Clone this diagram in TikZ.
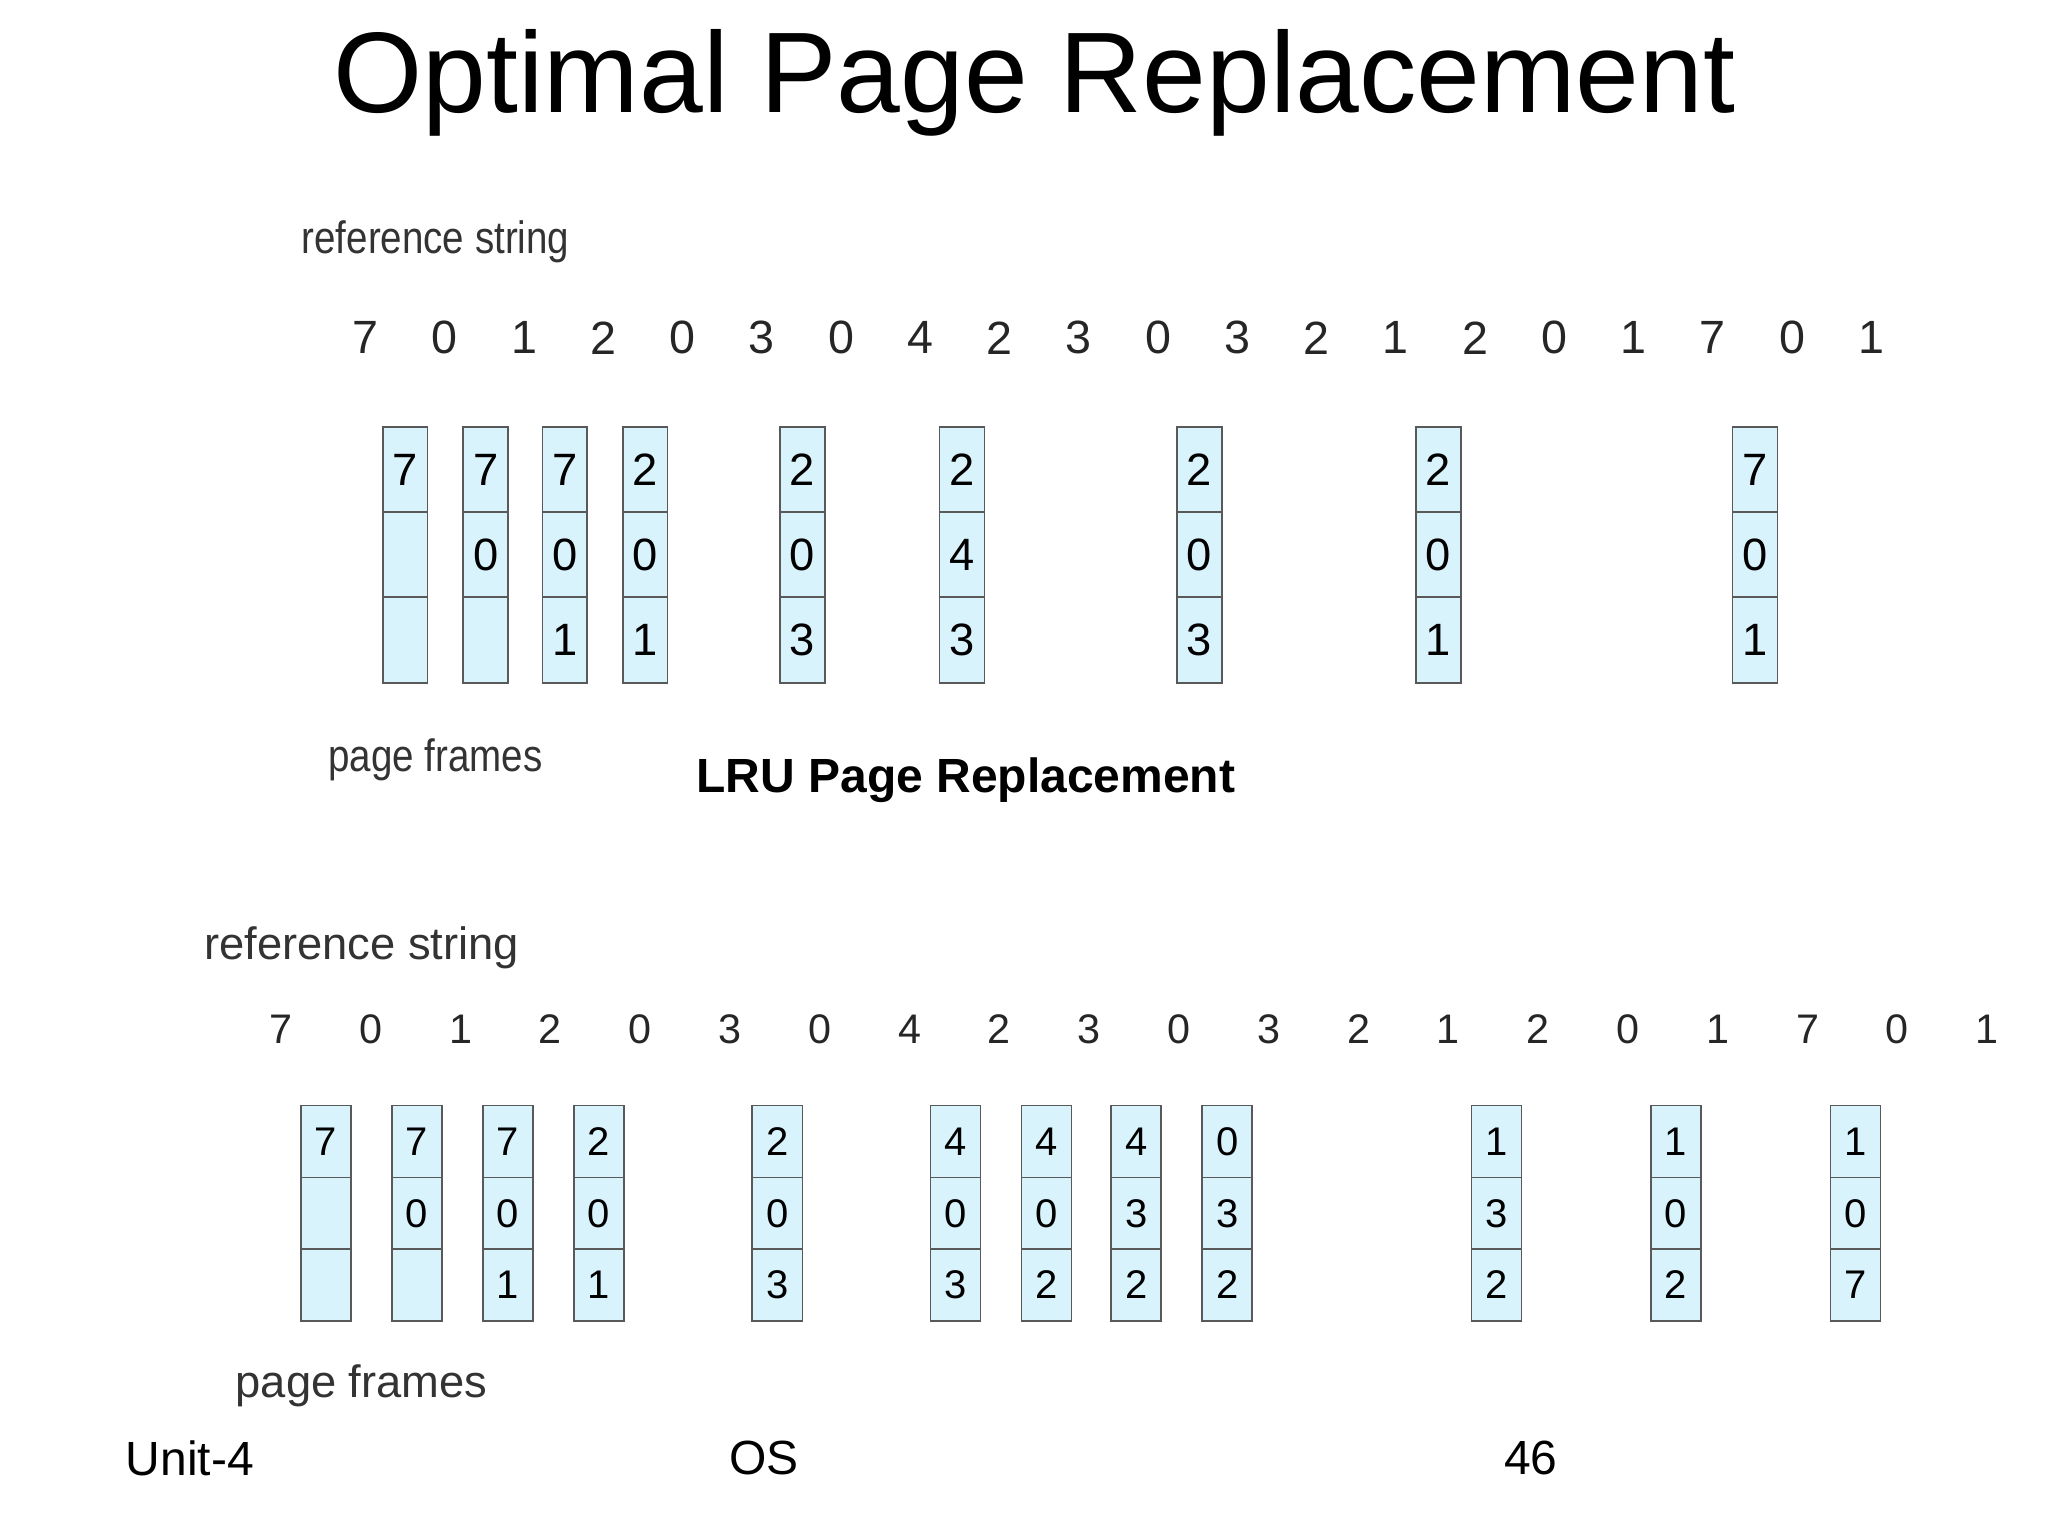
\documentclass[tikz,border=0pt]{standalone}
\usepackage{fontspec}
\setmainfont{Liberation Sans}
\begin{document}
\begin{tikzpicture}[x=0.495pt,y=-0.495pt,
  cellA/.style={draw=black!65,fill=cyan!15,minimum width=16.8pt,minimum height=32.2pt,inner sep=0,font=\fontsize{17}{17}\selectfont,line width=0.6pt},
  cellB/.style={draw=black!65,fill=cyan!15,minimum width=18.8pt,minimum height=26.9pt,inner sep=0,font=\fontsize{15}{15}\selectfont,line width=0.6pt},
  lbl/.style={font=\fontsize{17}{17}\selectfont,text=black!80,inner sep=0},
  numA/.style={font=\fontsize{17.5}{17}\selectfont,text=black!85,inner sep=0},
  numB/.style={font=\fontsize{15.5}{15}\selectfont,text=black!85,inner sep=0}]
\useasboundingbox (0,0) rectangle (1552,1164);
\node[font=\fontsize{43}{43}\selectfont,inner sep=0] (title) at (784,63) {Optimal Page Replacement};
% top
\node[lbl,xscale=0.85] (refA) at (330,183) {reference string};
\node[lbl,xscale=0.85] (pfA) at (330,576) {page frames};
\foreach \v [count=\i] in {7,0,1,2,0,3,0,4,2,3,0,3,2,1,2,0,1,7,0,1}
  \node[numA] (a\i) at ({277+60.06*(\i-1)},256) {\v};
\foreach \x/\p/\q/\r [count=\k] in {307/7//,368/7/0/,428/7/0/1,489/2/0/1,608/2/0/3,729/2/4/3,909/2/0/3,1090/2/0/1,1330/7/0/1}{
  \node[cellA] (ta\k) at (\x,356) {\p};
  \node[cellA] (tb\k) at (\x,420.5) {\q};
  \node[cellA] (tc\k) at (\x,485) {\r};
}
\node[font=\bfseries\fontsize{18}{18}\selectfont,inner sep=0] (lru) at (732,591) {LRU Page Replacement};
% bottom
\node[lbl] (refB) at (274,718) {reference string};
\node[lbl] (pfB) at (274,1050) {page frames};
\foreach \v [count=\i] in {7,0,1,2,0,3,0,4,2,3,0,3,2,1,2,0,1,7,0,1}
  \node[numB] (b\i) at ({213+68.05*(\i-1)},780) {\v};
\foreach \x/\p/\q/\r [count=\k] in {247/7//,316/7/0/,385/7/0/1,454/2/0/1,589/2/0/3,724/4/0/3,793/4/0/2,861/4/3/2,930/0/3/2,1134/1/3/2,1270/1/0/2,1406/1/0/7}{
  \node[cellB] (ba\k) at (\x,865) {\p};
  \node[cellB] (bb\k) at (\x,919.4) {\q};
  \node[cellB] (bc\k) at (\x,973.8) {\r};
}
\node[font=\fontsize{18}{18}\selectfont,anchor=west,inner sep=0] (unit) at (95,1105) {Unit-4};
\node[font=\fontsize{18}{18}\selectfont,inner sep=0] (os) at (579,1105) {OS};
\node[font=\fontsize{18}{18}\selectfont,inner sep=0] (pg) at (1160,1105) {46};
\end{tikzpicture}
\end{document}
